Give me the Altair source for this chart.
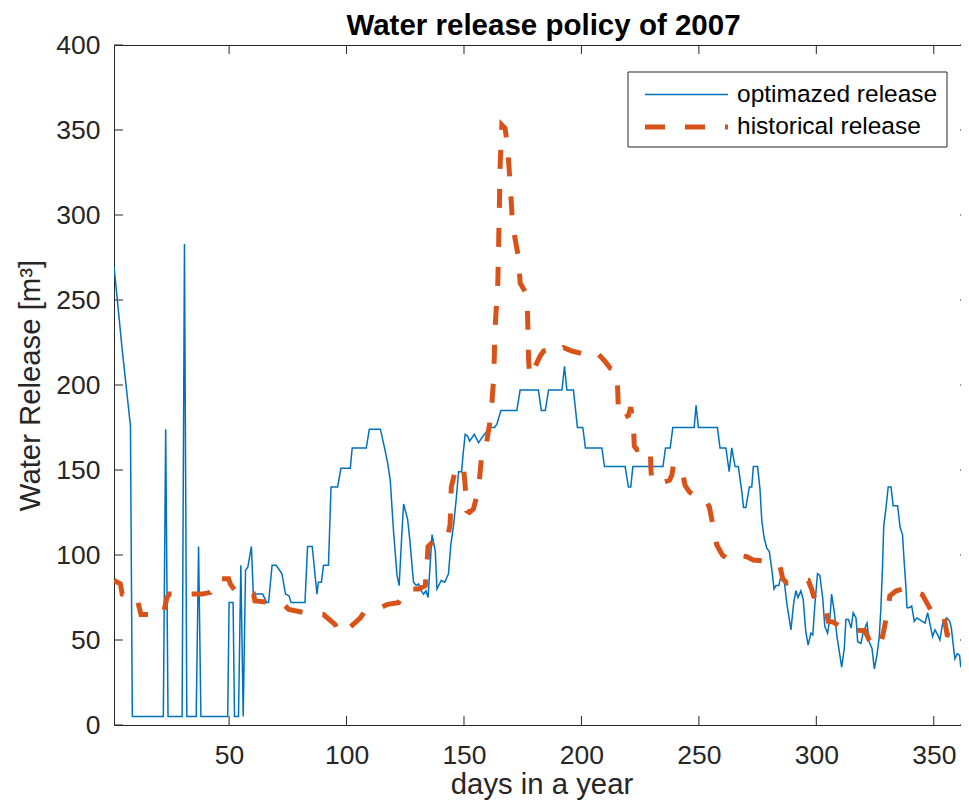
import altair as alt
import pandas as pd

# ---------------- data ----------------
blue_days = [1, 4.4, 8, 8.8, 22, 23, 24, 30, 31, 32, 36, 37, 38, 49.4, 50, 51.7, 52.3, 54, 55, 56,
             57, 58, 59.5, 60.3, 64.3, 66, 66.8, 68.3, 70, 71.5, 72.5, 74, 75.5, 76.4, 82.3, 83.4, 85.4, 87.4, 88, 89.3,
             90.2, 92.3, 93.4, 96.2, 97.6, 101.6, 102.4, 108.4, 109.7, 114.4, 116.5, 117.5, 118.6, 120, 121.5, 122.4, 123.6, 124.3, 126, 127,
             128.5, 129.7, 130.7, 131.7, 132.8, 133.8, 134.7, 136.4, 137.8, 138.5, 140.3, 141.8, 143.4, 144.4, 145.6, 146.7, 147.7, 149, 149.6, 150.5,
             151.5, 152.4, 154.4, 156.2, 157.6, 159.8, 161.5, 163, 164, 165.7, 172.5, 173.9, 181.7, 182.9, 184.6, 186, 191.7, 192.8, 193.8, 196.6,
             198.3, 200.6, 201.7, 208.7, 209.8, 218.6, 220, 221, 221.9, 234.7, 235.8, 237.8, 238.9, 248, 248.8, 249.8, 257.9, 259, 261.5, 262.9,
             264, 265.4, 266.8, 268.3, 269, 270, 271.5, 272.5, 273.2, 275, 276, 276.8, 277.8, 278.9, 280, 281, 282, 282.8, 284, 284.9,
             286.3, 287.5, 289.2, 290.3, 291.3, 292.2, 293.4, 294.4, 295.5, 296.5, 297.7, 298.5, 299.4, 300.5, 301.5, 302.7, 303.6, 304.8, 305.8, 306.5,
             307.6, 308.8, 309.8, 310.8, 311.9, 312.6, 313.7, 314.8, 315.7, 316.9, 317.6, 319, 320, 320.7, 321.6, 322.5, 323.7, 324.7, 325.8, 326.8,
             327.5, 328.2, 328.7, 329.6, 330.6, 331.8, 332.7, 334.6, 335.7, 336.7, 337.4, 338.1, 338.6, 339.5, 340.6, 341.7, 342.8, 344, 345, 346.3,
             347.4, 348, 349.5, 350.5, 351.7, 352.6, 353.8, 354.9, 355.6, 356.8, 357.5, 358.3, 359, 360, 361, 361.5, 362.4, 363.4, 364.5, 365]
blue_vals = [270, 222, 176, 5, 5, 174, 5, 5, 283, 5, 5, 105, 5, 5, 72, 72, 5, 5, 94, 5,
             91, 93, 105, 77, 77, 72, 72, 94, 94, 91, 89, 77, 76, 72, 72, 105, 105, 77, 84, 84,
             94, 94, 140, 140, 151, 151, 163, 163, 174, 174, 161, 154, 144, 114, 88, 82, 114, 130, 121, 108,
             84, 82, 83, 79, 77, 79, 75, 112, 102, 80, 85, 84, 89, 106, 118, 133, 149, 149, 159, 171,
             170, 167, 171, 166, 169, 173, 175, 175, 177, 185, 185, 197, 197, 185, 185, 197, 197, 211, 197, 197,
             175, 175, 163, 163, 152, 152, 140, 140, 152, 152, 163, 163, 175, 175, 188, 175, 175, 163, 163, 149,
             163, 152, 152, 137, 128, 128, 140, 140, 152, 152, 139, 120, 110, 104, 102, 92, 80, 82, 82, 87,
             85, 71, 56, 71, 79, 75, 79, 74, 55, 47, 54, 53, 71, 89, 88, 75, 58, 54, 63, 77,
             67, 52, 43, 34, 45, 62, 62, 57, 66, 63, 49, 48, 55, 57, 60, 49, 45, 33, 41, 52,
             69, 94, 117, 127, 140, 140, 129, 129, 116, 112, 96, 82, 69, 69, 70, 61, 63, 62, 61, 60,
             66, 62, 52, 56, 53, 50, 60, 62, 63, 61, 57, 47, 39, 42, 41, 34, 38, 42, 37, 40]

hist_days = [1, 3.7, 4.5, 10.5, 12.5, 21.9, 23.6, 24.5, 38.5, 42, 44, 44.9, 49.8, 50.5, 53, 55.5, 60.4, 61, 69, 73.2,
             75.4, 82.4, 90.2, 95.2, 96.2, 99.5, 101, 105.9, 107.3, 111.5, 117.5, 122.1, 125.7, 130.7, 133.5, 134.2, 134.7, 139.9, 143.4, 144.1,
             144.6, 146, 148.4, 149.8, 150.5, 151.2, 152.3, 154, 155.5, 156.6, 157.6, 158.3, 159.6, 161, 161.9, 162.6, 163.3, 164.4, 164.7, 165.4,
             166.1, 167.5, 168.5, 169.7, 170.7, 173.2, 173.9, 176.8, 177.2, 177.5, 178, 180, 182.4, 183.9, 186.7, 189.6, 192.4, 196, 201.6, 202.4,
             206.6, 210, 212.2, 215.1, 215.5, 215.8, 217, 220, 221, 222.1, 222.5, 223.6, 229.3, 229.6, 230, 232.8, 235, 237.5, 238.5, 239.2,
             241, 242.7, 244.1, 246, 249.1, 252.7, 254.5, 256.2, 257.6, 260, 261.9, 263, 266.1, 270.4, 273.2, 277.5, 281, 284.6, 285.7, 287.5,
             292, 296.6, 298, 298.8, 301, 304, 305.1, 307.2, 310, 313.6, 320.7, 322.5, 324.6, 327.4, 328.5, 330.2, 331.3, 334, 338.7, 341.5,
             345.1, 347, 348.6, 349.3, 354.3, 355.7, 363.5, 365]
hist_vals = [85, 83, 77, 76, 65, 65, 75, 77, 77, 78, 83, 86, 86, 83, 78, 77, 77, 73, 72, 71,
             68, 66, 65, 59, 55, 55, 57, 63, 66, 67, 71, 72, 80, 80, 82, 94, 105, 112, 113, 118,
             140, 148, 153, 151, 141, 126, 125, 127, 135, 145, 159, 163, 166, 178, 190, 203, 235, 260, 279, 330,
             353, 351, 341, 318, 294, 275, 260, 253, 234, 215, 205, 210, 217, 220, 221, 219, 222, 220, 218, 217,
             219, 214, 210, 208, 195, 182, 180, 182, 187, 177, 164, 162, 163, 150, 143, 142, 143, 144, 147, 153,
             152, 151, 141, 137, 134, 133, 128, 116, 106, 100, 98, 100, 100, 99, 97, 96.6, 95, 93, 86, 83.5,
             84, 85, 80, 76, 71, 68, 61, 60.5, 58, 56, 55.5, 50, 45.7, 48, 54, 66, 76, 79, 80.6, 78.6,
             76.7, 72, 68, 65, 64, 53, 51, 50]

x_ticks = [50, 100, 150, 200, 250, 300, 350]
y_ticks = [0, 50, 100, 150, 200, 250, 300, 350, 400]
legend_labels = ["optimazed release", "historical release"]
title_text = "Water release policy of 2007"

# ---------------- chart ----------------
W, H = 855, 680
FONT = "Liberation Sans"
AX = "#262626"
BLUE = "#0072BD"
ORANGE = "#D95319"
TL = 9  # inward tick length

blue_df = pd.DataFrame({"day": blue_days, "val": blue_vals})
hist_df = pd.DataFrame({"day": hist_days, "val": hist_vals})
xt_df = pd.DataFrame({"day": x_ticks})
yt_df = pd.DataFrame({"val": y_ticks})
one = pd.DataFrame({"k": [0]})

x_scale = alt.Scale(domain=[1, 365], nice=False, zero=False)
y_scale = alt.Scale(domain=[0, 400], nice=False, zero=False)

x_axis = alt.Axis(values=x_ticks, title="days in a year", labelPadding=17, titlePadding=2,
                  domain=False, ticks=False, grid=False)
y_axis = alt.Axis(values=y_ticks, title="Water Release [m³]", labelPadding=14, titlePadding=10,
                  domain=False, ticks=False, grid=False)

X = alt.X("day:Q", scale=x_scale, axis=x_axis)
Y = alt.Y("val:Q", scale=y_scale, axis=y_axis)

blue = alt.Chart(blue_df).mark_line(color=BLUE, strokeWidth=1.5, clip=True).encode(x=X, y=Y, order="day:Q")
hist = alt.Chart(hist_df).mark_line(color=ORANGE, strokeWidth=5, strokeDash=[19, 20], strokeCap="butt",
                                    clip=True).encode(x=X, y=Y, order="day:Q")

xt_bottom = alt.Chart(xt_df).mark_rule(color=AX, strokeWidth=1).encode(x=X, y=alt.value(H), y2=alt.value(H - TL))
xt_top = alt.Chart(xt_df).mark_rule(color=AX, strokeWidth=1).encode(x=X, y=alt.value(0), y2=alt.value(TL))
yt_left = alt.Chart(yt_df).mark_rule(color=AX, strokeWidth=1).encode(y=Y, x=alt.value(0), x2=alt.value(TL))
yt_right = alt.Chart(yt_df).mark_rule(color=AX, strokeWidth=1).encode(y=Y, x=alt.value(W), x2=alt.value(W - TL))

# legend
leg_box = alt.Chart(one).mark_rect(fill="white", stroke=AX, strokeWidth=1).encode(
    x=alt.value(514), x2=alt.value(833), y=alt.value(27), y2=alt.value(102))
leg_blue = alt.Chart(one).mark_rule(color=BLUE, strokeWidth=1.5).encode(
    x=alt.value(531), x2=alt.value(614), y=alt.value(49.5))
leg_hist = alt.Chart(one).mark_rule(color=ORANGE, strokeWidth=5, strokeDash=[20, 20], strokeCap="butt").encode(
    x=alt.value(531), x2=alt.value(614), y=alt.value(82))
leg_t1 = alt.Chart(one).mark_text(align="left", baseline="middle", font=FONT, fontSize=24.5, color="black").encode(
    x=alt.value(623), y=alt.value(49.5), text=alt.value(legend_labels[0]))
leg_t2 = alt.Chart(one).mark_text(align="left", baseline="middle", font=FONT, fontSize=24.5, color="black").encode(
    x=alt.value(623), y=alt.value(82), text=alt.value(legend_labels[1]))

title = alt.Chart(one).mark_text(align="center", baseline="alphabetic", font=FONT, fontSize=29.5,
                                 fontWeight="bold", color="black").encode(
    x=alt.value(429.5), y=alt.value(-10.5), text=alt.value(title_text))

chart = alt.layer(
    xt_bottom, xt_top, yt_left, yt_right, blue, hist, leg_box, leg_blue, leg_hist, leg_t1, leg_t2, title
).properties(
    width=W, height=H,
    autosize=alt.AutoSizeParams(type="none"),
    padding={"left": 106, "top": 37, "right": -8, "bottom": 77},
).configure_view(
    stroke=AX, strokeWidth=1
).configure_axis(
    domain=False, ticks=False, tickSize=0, grid=False,
    labelFont=FONT, labelFontSize=26.5, labelColor=AX,
    titleFont=FONT, titleFontSize=29.3, titleFontWeight="normal", titleColor=AX,
)

chart.save("out.html", embed_options={"renderer": "svg", "actions": False})
